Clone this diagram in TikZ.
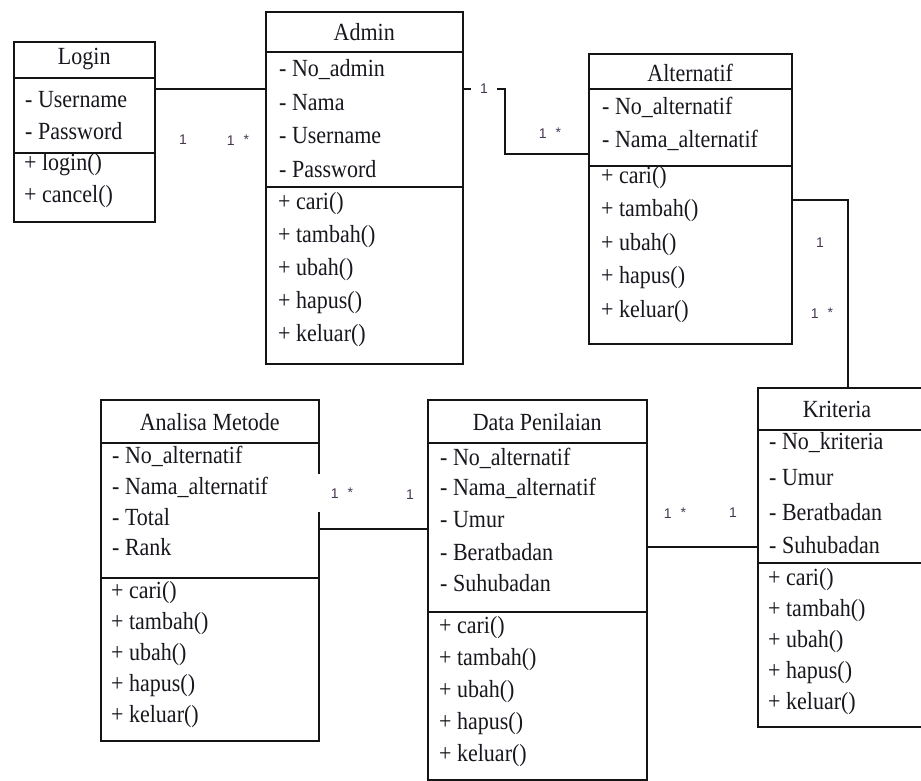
\documentclass[tikz,border=0pt]{standalone}
\usepackage{fontspec}
\setmainfont{Liberation Serif}
\newfontfamily\labelfont{Liberation Sans}
\usetikzlibrary{calc}

\definecolor{linec}{RGB}{20,20,20}
\definecolor{textc}{RGB}{25,22,30}
\definecolor{multc}{RGB}{70,55,80}

% class diagram text: Times-width serif, slightly tall
\newcommand\rowfont{\fontsize{22}{26}\selectfont}
\newcommand\tallrow[1]{\scalebox{1}[1.12]{#1}}
\newcommand\many{1\hspace{9pt}\raisebox{1pt}{*}}

\tikzset{
  cls/.style={draw=linec, line width=1.5pt, anchor=north west, inner sep=0pt, fill=white},
  sepline/.style={draw=linec, line width=1.5pt},
  row/.style={anchor=west, inner sep=0pt, text=textc, font=\rowfont},
  ttl/.style={inner sep=0pt, text=textc, font=\rowfont},
  mult/.style={inner sep=1pt, text=multc, font=\labelfont\fontsize{14}{16}\selectfont},
  link/.style={draw=linec, line width=1.5pt},
}

\begin{document}
\begin{tikzpicture}[x=1pt, y=-1pt]
\useasboundingbox (0,0) rectangle (921,780);

% ---------- Login ----------
\node[cls, minimum width=141pt, minimum height=180pt] (login) at (13,41) {};
\draw[sepline] (login.west |- 0,78) -- (login.east |- 0,78);
\draw[sepline] (login.west |- 0,153) -- (login.east |- 0,153);
\node[ttl] (login-t) at ($(login.north)+(0,18)$) {\tallrow{Login}};
\node[row] (login-a1) at (25,100) {\tallrow{- Username}};
\node[row] (login-a2) at (25,131) {\tallrow{- Password}};
\node[row] (login-m1) at (24,165) {\tallrow{+ login()}};
\node[row] (login-m2) at (24,197) {\tallrow{+ cancel()}};

% ---------- Admin ----------
\node[cls, minimum width=197pt, minimum height=352pt] (admin) at (265,11) {};
\draw[sepline] (admin.west |- 0,52) -- (admin.east |- 0,52);
\draw[sepline] (admin.west |- 0,187) -- (admin.east |- 0,187);
\node[ttl] (admin-t) at ($(admin.north)+(0,21)$) {\tallrow{Admin}};
\node[row] (admin-a1) at (279,70) {\tallrow{- No\_admin}};
\node[row] (admin-a2) at (279,103) {\tallrow{- Nama}};
\node[row] (admin-a3) at (279,136) {\tallrow{- Username}};
\node[row] (admin-a4) at (279,169) {\tallrow{- Password}};
\node[row] (admin-m1) at (278,204) {\tallrow{+ cari()}};
\node[row] (admin-m2) at (278,237) {\tallrow{+ tambah()}};
\node[row] (admin-m3) at (278,270) {\tallrow{+ ubah()}};
\node[row] (admin-m4) at (278,303) {\tallrow{+ hapus()}};
\node[row] (admin-m5) at (278,336) {\tallrow{+ keluar()}};

% ---------- Alternatif ----------
\node[cls, minimum width=203pt, minimum height=290pt] (alt) at (588,53) {};
\draw[sepline] (alt.west |- 0,89) -- (alt.east |- 0,89);
\draw[sepline] (alt.west |- 0,166) -- (alt.east |- 0,166);
\node[ttl] (alt-t) at ($(alt.north)+(0,20)$) {\tallrow{Alternatif}};
\node[row] (alt-a1) at (602,107) {\tallrow{- No\_alternatif}};
\node[row] (alt-a2) at (602,140) {\tallrow{- Nama\_alternatif}};
\node[row] (alt-m1) at (601,178) {\tallrow{+ cari()}};
\node[row] (alt-m2) at (601,211) {\tallrow{+ tambah()}};
\node[row] (alt-m3) at (601,245) {\tallrow{+ ubah()}};
\node[row] (alt-m4) at (601,278) {\tallrow{+ hapus()}};
\node[row] (alt-m5) at (601,312) {\tallrow{+ keluar()}};

% ---------- Kriteria ----------
\node[cls, minimum width=175pt, minimum height=339pt] (krit) at (757,387) {};
\draw[sepline] (krit.west |- 0,430) -- (krit.east |- 0,430);
\draw[sepline] (krit.west |- 0,563) -- (krit.east |- 0,563);
\node[ttl] (krit-t) at (837,409) {\tallrow{Kriteria}};
\node[row] (krit-a1) at (769,443) {\tallrow{- No\_kriteria}};
\node[row] (krit-a2) at (769,478) {\tallrow{- Umur}};
\node[row] (krit-a3) at (769,512) {\tallrow{- Beratbadan}};
\node[row] (krit-a4) at (769,545) {\tallrow{- Suhubadan}};
\node[row] (krit-m1) at (768,580) {\tallrow{+ cari()}};
\node[row] (krit-m2) at (768,611) {\tallrow{+ tambah()}};
\node[row] (krit-m3) at (768,642) {\tallrow{+ ubah()}};
\node[row] (krit-m4) at (768,673) {\tallrow{+ hapus()}};
\node[row] (krit-m5) at (768,704) {\tallrow{+ keluar()}};

% ---------- Analisa Metode ----------
\node[cls, minimum width=218pt, minimum height=341pt] (ana) at (100,399) {};
\draw[sepline] (ana.west |- 0,443) -- (ana.east |- 0,443);
\draw[sepline] (ana.west |- 0,578) -- (ana.east |- 0,578);
\node[ttl] (ana-t) at ($(ana.north)+(0,23)$) {\tallrow{Analisa Metode}};
\node[row] (ana-a1) at (112,456) {\tallrow{- No\_alternatif}};
\node[row] (ana-a2) at (112,487) {\tallrow{- Nama\_alternatif}};
\node[row] (ana-a3) at (112,517) {\tallrow{- Total}};
\node[row] (ana-a4) at (112,547) {\tallrow{- Rank}};
\node[row] (ana-m1) at (111,593) {\tallrow{+ cari()}};
\node[row] (ana-m2) at (111,624) {\tallrow{+ tambah()}};
\node[row] (ana-m3) at (111,655) {\tallrow{+ ubah()}};
\node[row] (ana-m4) at (111,686) {\tallrow{+ hapus()}};
\node[row] (ana-m5) at (111,717) {\tallrow{+ keluar()}};

% ---------- Data Penilaian ----------
\node[cls, minimum width=219pt, minimum height=380pt] (data) at (427,399) {};
\draw[sepline] (data.west |- 0,443) -- (data.east |- 0,443);
\draw[sepline] (data.west |- 0,612) -- (data.east |- 0,612);
\node[ttl] (data-t) at ($(data.north)+(0,23)$) {\tallrow{Data Penilaian}};
\node[row] (data-a1) at (440,458) {\tallrow{- No\_alternatif}};
\node[row] (data-a2) at (440,488) {\tallrow{- Nama\_alternatif}};
\node[row] (data-a3) at (440,520) {\tallrow{- Umur}};
\node[row] (data-a4) at (440,552) {\tallrow{- Beratbadan}};
\node[row] (data-a5) at (440,583) {\tallrow{- Suhubadan}};
\node[row] (data-m1) at (439,628) {\tallrow{+ cari()}};
\node[row] (data-m2) at (439,660) {\tallrow{+ tambah()}};
\node[row] (data-m3) at (439,692) {\tallrow{+ ubah()}};
\node[row] (data-m4) at (439,724) {\tallrow{+ hapus()}};
\node[row] (data-m5) at (439,756) {\tallrow{+ keluar()}};

% ---------- associations ----------
% Login -- Admin
\draw[link] (login.east |- 0,89) -- (admin.west |- 0,89);
\node[mult] (m-la1) at (183,140) {1};
\node[mult] (m-la2) at (238,140) {\many};

% Admin -- Alternatif (elbow)
\coordinate (aa1) at (505,89);
\coordinate (aa2) at (505,154);
\draw[link] (admin.east |- aa1) -- (aa1) -- (aa2) -- (alt.west |- aa2);
\node[mult, fill=white, minimum width=26pt] (m-aa1) at (484,89) {1};
\node[mult] (m-aa2) at (550,133) {\many};

% Alternatif -- Kriteria (elbow)
\coordinate (ak1) at (848,200);
\draw[link] (alt.east |- ak1) -- (ak1) -- (krit.north -| ak1);
\node[mult] (m-ak1) at (820,243) {1};
\node[mult] (m-ak2) at (822,313) {\many};

% Analisa Metode -- Data Penilaian
\draw[link] (ana.east |- 0,529) -- (data.west |- 0,529);
\node[mult, fill=white, minimum width=50pt, minimum height=38pt] (m-ad1) at (342,493) {\many};
\node[mult] (m-ad2) at (410,495) {1};

% Data Penilaian -- Kriteria
\draw[link] (data.east |- 0,547) -- (krit.west |- 0,547);
\node[mult] (m-dk1) at (675,513) {\many};
\node[mult] (m-dk2) at (733,513) {1};
\end{tikzpicture}
\end{document}
